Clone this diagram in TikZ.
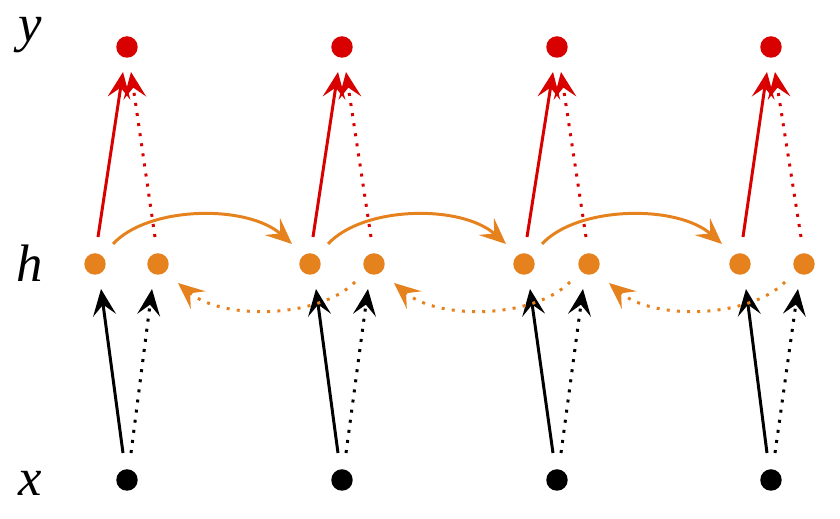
\documentclass[tikz,border=0pt]{standalone}
\usepackage{fontspec}
\setmainfont{Liberation Serif}
\usetikzlibrary{arrows.meta}
\definecolor{cred}{HTML}{D90000}
\definecolor{corange}{HTML}{E6821E}
\tikzset{
  dotnode/.style={circle,inner sep=0pt,minimum size=0.43cm},
  ynode/.style={dotnode,fill=cred},
  hnode/.style={dotnode,fill=corange},
  xnode/.style={dotnode,fill=black},
  lbl/.style={inner sep=0pt,font=\fontsize{30}{30}\selectfont\itshape},
  arr/.style={line width=1.7pt,-{Stealth[length=15pt,width=13pt,inset=6pt]}},
  dotline/.style={line width=1.7pt,dash pattern=on 1.7pt off 4.1pt},
}
\begin{document}
\begin{tikzpicture}[x=0.02cm,y=-0.02cm]
\useasboundingbox (0,0) rectangle (840,519);
\node[lbl] (ly) at (30,35) {y};
\node[lbl] (lh) at (30,263) {h};
\node[lbl] (lx) at (30,483) {x};
\foreach \i/\cx/\hl/\hr in {1/127/95/158, 2/342/310/374, 3/557/524/589, 4/771/740/804} {
  \node[ynode] (y\i) at (\cx,47) {};
  \node[hnode] (hl\i) at (\hl,264) {};
  \node[hnode] (hr\i) at (\hr,264) {};
  \node[xnode] (x\i) at (\cx,480) {};
  \coordinate (xs\i) at (\cx-4,453);
  \coordinate (xd\i) at (\cx+4,453);
  \coordinate (ht\i) at (\hl+6,289);
  \coordinate (hd\i) at (\hr-6,289);
  \coordinate (hs\i) at (\hl+3,237);
  \coordinate (hu\i) at (\hr-3,237);
  \coordinate (yt\i) at (\cx-4,72);
  \coordinate (yd\i) at (\cx+4,72);
  \draw[arr] (xs\i) -- (ht\i);
  \draw[arr,dotline] (xd\i) -- (hd\i);
  \draw[arr,cred] (hs\i) -- (yt\i);
  \draw[arr,cred,dotline] (hu\i) -- (yd\i);
}
\foreach \i/\j in {1/2, 2/3, 3/4} {
  \coordinate (os\i) at ([shift={(18,-20)}]hl\i.center);
  \coordinate (oe\i) at ([shift={(-18,-20)}]hl\j.center);
  \draw[arr,corange] (os\i) .. controls ([shift={(35,-38)}]os\i) and ([shift={(-45,-40)}]oe\i) .. (oe\i);
  \coordinate (ds\i) at ([shift={(-19,18)}]hr\j.center);
  \coordinate (de\i) at ([shift={(20,19)}]hr\i.center);
  \draw[arr,corange,dotline] (ds\i) .. controls ([shift={(-35,36)}]ds\i) and ([shift={(45,38)}]de\i) .. (de\i);
}
\end{tikzpicture}
\end{document}
